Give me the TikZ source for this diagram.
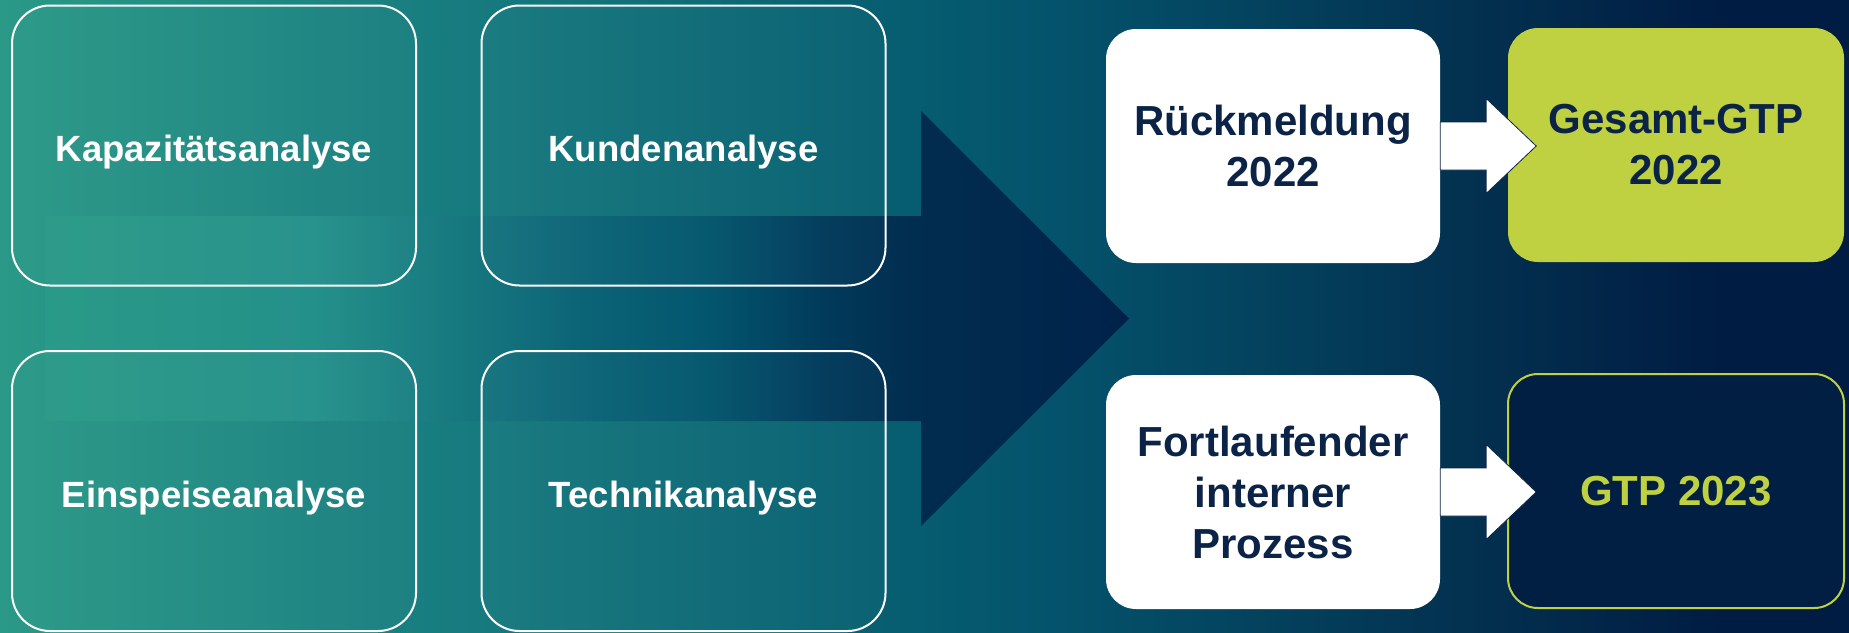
\documentclass[tikz,border=0pt]{standalone}
\usepackage{fontspec}
\setmainfont{Liberation Sans}
\usepackage{tikz}
\usetikzlibrary{positioning}
\definecolor{navy}{HTML}{0B2346}
\definecolor{lime}{HTML}{BFD141}
\definecolor{deepnavy}{HTML}{011E43}
% background colours, left to right
\definecolor{bgA}{HTML}{2A9987}
\definecolor{bgB}{HTML}{177B7F}
\definecolor{bgC}{HTML}{065D70}
\definecolor{bgD}{HTML}{04536C}
\definecolor{bgE}{HTML}{03304F}
\definecolor{bgF}{HTML}{001C42}
% big arrow colours
\definecolor{arA}{HTML}{2A9A88}
\definecolor{arB}{HTML}{24908A}
\definecolor{arC}{HTML}{0B6376}
\definecolor{arD}{HTML}{03566E}
\definecolor{arE}{HTML}{013A5A}
\definecolor{arF}{HTML}{012D50}
\definecolor{arG}{HTML}{00224A}
\pgfdeclarehorizontalshading{bgshade}{100bp}{color(0bp)=(bgA); color(25bp)=(bgA);
  color(37.5bp)=(bgB); color(49.5bp)=(bgC); color(53.4bp)=(bgD); color(65bp)=(bgE);
  color(71.5bp)=(bgF); color(75bp)=(bgF); color(100bp)=(bgF)}
\pgfdeclarehorizontalshading{arrowshade}{100bp}{color(0bp)=(arA); color(25bp)=(arA);
  color(37.5bp)=(arB); color(50bp)=(arC); color(55.5bp)=(arD); color(61bp)=(arE);
  color(65bp)=(arF); color(75bp)=(arG); color(100bp)=(arG)}
\tikzset{
  anabox/.style = {rectangle, rounded corners=38pt, draw=white, line width=2pt,
    fill=white, fill opacity=0.02, text opacity=1, text=white,
    minimum width=404pt, minimum height=280pt, inner sep=0pt,
    text height=32pt, text depth=0pt,
    font=\fontsize{36.5}{44}\selectfont\bfseries},% analysis box
  stepbox/.style = {rectangle, rounded corners=30pt, fill=white, text=navy,
    minimum width=334pt, minimum height=234pt, align=center, inner sep=0pt,
    font=\fontsize{42}{51}\selectfont\bfseries},% white box
  resbox/.style = {stepbox, fill=lime, minimum width=336pt},% green box
  nextbox/.style = {resbox, fill=deepnavy, draw=lime, line width=2pt, text=lime},% outlined box
  flowarrow/.style = {fill=white, draw=navy, line width=0.8pt}% small block arrow
}
\begin{document}
\begin{tikzpicture}[x=1pt,y=-1pt]
\useasboundingbox (0,0) rectangle (1849,632);
\shade[shading=bgshade] (0,0) rectangle (1849,632);
% big arrow behind the boxes
\shade[shading=arrowshade] (45,216) -- (921,216) -- (921,111) -- (1129,318.5)
  -- (921,526) -- (921,421) -- (45,421) -- cycle;
% analyses
\node [anabox] (kap) at (214,145.5) {Kapazitätsanalyse};
\node [anabox] (kun) at (683.5,145.5) {Kundenanalyse};
\node [anabox] (ein) at (214,491) {Einspeiseanalyse};
\node [anabox] (tec) at (683.5,491) {Technikanalyse};
% results
\node [resbox] (ges) at (1676,145) {Gesamt-GTP\\2022};
\node [nextbox] (gtp) at (1676,491) {GTP 2023};
\node [stepbox] (rue) at (1273,146) {Rückmeldung\\2022};
\node [stepbox] (fort) at (1273,492) {Fortlaufender\\interner\\Prozess};
% block arrows
\draw [flowarrow] ([yshift=24pt]rue.east) -- ++(46,0) -- ++(0,-23.5) -- ++(50,47.5)
  -- ++(-50,47.5) -- ++(0,-23.5) -- ++(-46,0) -- cycle;
\draw [flowarrow] ([yshift=24pt]fort.east) -- ++(46,0) -- ++(0,-23.5) -- ++(50,47.5)
  -- ++(-50,47.5) -- ++(0,-23.5) -- ++(-46,0) -- cycle;
\end{tikzpicture}
\end{document}
